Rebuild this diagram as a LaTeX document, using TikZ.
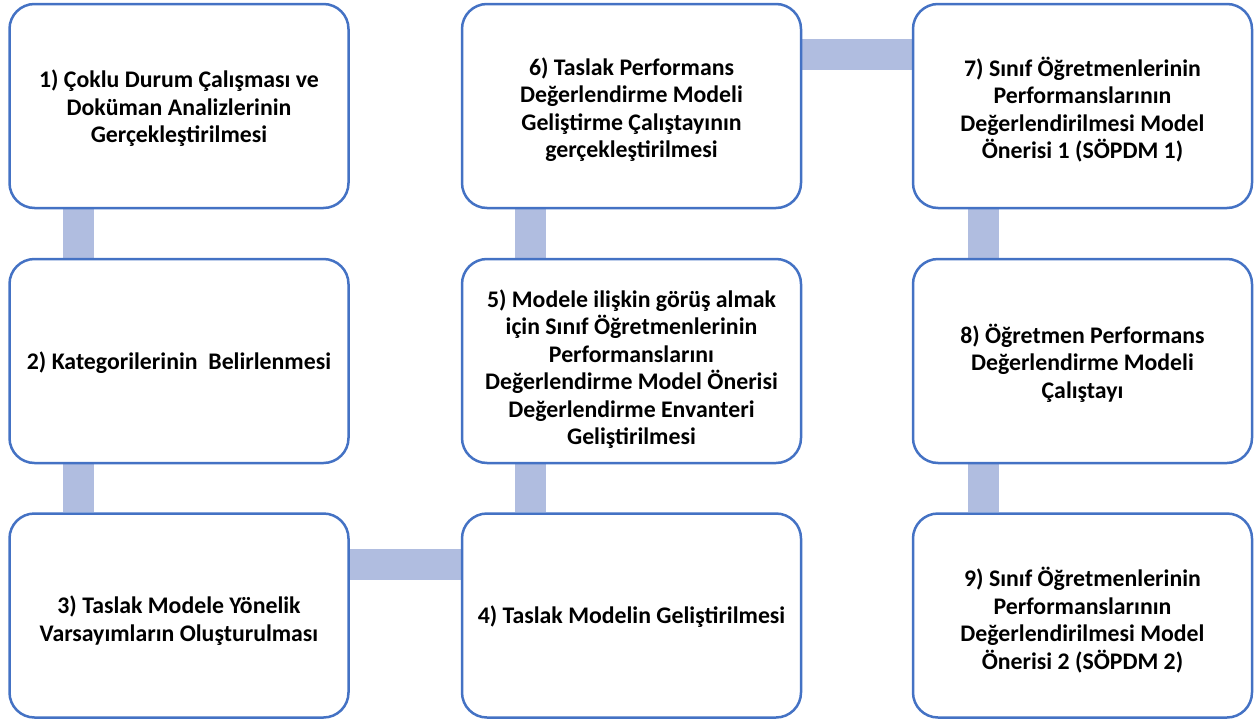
\documentclass[tikz,border=0pt]{standalone}
\usepackage{fontspec}
\setmainfont{Carlito}
\usetikzlibrary{backgrounds}
\definecolor{boxline}{HTML}{4472C4}
\definecolor{barfill}{HTML}{B0BDE0}
\begin{document}
\begin{tikzpicture}[x=1pt,y=-1pt,
  stage/.style={draw=boxline, line width=2.5pt, fill=white, rounded corners=25pt,
    minimum width=339pt, minimum height=204pt, inner sep=0pt},
  stagetext/.style={align=center, font=\fontsize{23.8}{27.5}\selectfont\bfseries,
    text=black, inner sep=0pt},
  bar/.style={draw=barfill, line width=31pt, line cap=butt}]
\useasboundingbox (0,0) rectangle (1255,720);

% stage boxes, three columns by three rows
\node[stage] (s1) at (179,106)     {};
\node[stage] (s2) at (179,361)     {};
\node[stage] (s3) at (179,615.5)   {};
\node[stage] (s4) at (631.5,615.5) {};
\node[stage] (s5) at (631.5,361)   {};
\node[stage] (s6) at (631.5,106)   {};
\node[stage] (s7) at (1082.5,106)  {};
\node[stage] (s8) at (1082.5,361)  {};
\node[stage] (s9) at (1082.5,615.5){};

% stage captions
\node[stagetext] (t1) at ([yshift=-2.5pt]s1.center) {1) Çoklu Durum Çalışması ve\\Doküman Analizlerinin\\Gerçekleştirilmesi};
\node[stagetext] (t2) at ([yshift=-2pt]s2.center) {2) Kategorilerinin~ Belirlenmesi};
\node[stagetext] (t3) at ([yshift=-5pt]s3.center) {3) Taslak Modele Yönelik\\Varsayımların Oluşturulması};
\node[stagetext] (t4) at ([yshift=-1.5pt]s4.center) {4) Taslak Modelin Geliştirilmesi};
\node[stagetext] (t5) at ([yshift=-8pt]s5.center) {5) Modele ilişkin görüş almak\\için Sınıf Öğretmenlerinin\\Performanslarını\\Değerlendirme Model Önerisi\\Değerlendirme Envanteri\\Geliştirilmesi};
\node[stagetext] (t6) at ([yshift=-3.5pt]s6.center) {6) Taslak Performans\\Değerlendirme Modeli\\Geliştirme Çalıştayının\\gerçekleştirilmesi};
\node[stagetext] (t7) at ([yshift=-3.5pt]s7.center) {7) Sınıf Öğretmenlerinin\\Performanslarının\\Değerlendirilmesi Model\\Önerisi 1 (SÖPDM 1)};
\node[stagetext] (t8) at ([yshift=-2pt]s8.center) {8) Öğretmen Performans\\Değerlendirme Modeli\\Çalıştayı};
\node[stagetext] (t9) at ([yshift=-4.5pt]s9.center) {9) Sınıf Öğretmenlerinin\\Performanslarının\\Değerlendirilmesi Model\\Önerisi 2 (SÖPDM 2)};

% connecting bars, drawn behind the boxes
\begin{scope}[on background layer]
  \draw[bar] ([xshift=-100.5pt]s1.south) -- ([xshift=-100.5pt]s2.north);
  \draw[bar] ([xshift=-100.5pt]s2.south) -- ([xshift=-100.5pt]s3.north);
  \draw[bar] ([yshift=51pt]s3.east) -- ([yshift=51pt]s4.west);
  \draw[bar] ([xshift=-101pt]s4.north) -- ([xshift=-101pt]s5.south);
  \draw[bar] ([xshift=-101pt]s5.north) -- ([xshift=-101pt]s6.south);
  \draw[bar] ([yshift=51.5pt]s6.east) -- ([yshift=51.5pt]s7.west);
  \draw[bar] ([xshift=-99.5pt]s7.south) -- ([xshift=-99.5pt]s8.north);
  \draw[bar] ([xshift=-99.5pt]s8.south) -- ([xshift=-99.5pt]s9.north);
\end{scope}
\end{tikzpicture}
\end{document}
